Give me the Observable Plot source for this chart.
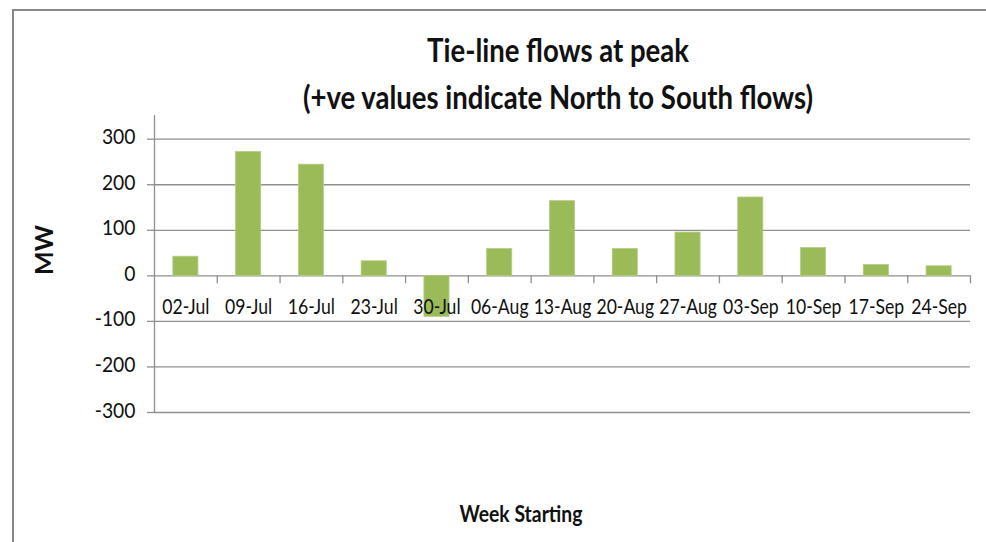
<!DOCTYPE html>
<html>
<head>
<meta charset="utf-8">
<script src="https://cdn.jsdelivr.net/npm/d3@7"></script>
<script src="https://cdn.jsdelivr.net/npm/@observablehq/plot@0.6"></script>
<style>
  html, body { margin: 0; padding: 0; background: #fff; }
  #wrap { position: relative; width: 986px; height: 542px; overflow: hidden; background: #fff;
          font-family: Lato, "Liberation Sans", sans-serif; }
  #frame { position: absolute; left: 12px; top: 9px; width: 1200px; height: 800px;
           border-top: 2px solid #888; border-left: 2px solid #888; }
  #title { position: absolute; left: 0; width: 1116px; top: 26px; text-align: center;
           font-weight: bold; font-size: 32px; line-height: 47px; color: #111;
           transform: scaleX(0.86); transform-origin: 558px 0; }
  #ylab { position: absolute; left: 43px; top: 250px; transform: translate(-50%, -50%) rotate(-90deg);
          font-weight: bold; font-size: 25px; color: #111; }
  #xlab { position: absolute; left: 521px; top: 513px; transform: translate(-50%, -50%) scaleX(0.88);
          font-weight: bold; font-size: 22px; color: #111; white-space: nowrap; }
  #chart { position: absolute; left: 0; top: 100px; }
</style>
</head>
<body>
<div id="wrap">
  <div id="frame"></div>
  <div id="title">Tie-line flows at peak<br>(+ve values indicate North to South flows)</div>
  <div id="ylab">MW</div>
  <div id="xlab">Week Starting</div>
  <div id="chart"></div>
</div>
<script>
const weeks = ["02-Jul","09-Jul","16-Jul","23-Jul","30-Jul","06-Aug","13-Aug","20-Aug","27-Aug","03-Sep","10-Sep","17-Sep","24-Sep"];
const flows = [42, 272, 244, 32, -90, 59, 164, 59, 95, 172, 61, 24, 21];
const yTicks = [-300, -200, -100, 0, 100, 200, 300];

const data = weeks.map((w, i) => ({week: w, mw: flows[i]}));

const W = 986, H = 330, mL = 154, mR = 16, mT = 15, mB = 18;
const step = (W - mL - mR) / weeks.length;
const grey = "#8f8f8f";

const chart = Plot.plot({
  width: W, height: H,
  marginLeft: mL, marginRight: mR, marginTop: mT, marginBottom: mB,
  style: {fontFamily: 'Lato, "Liberation Sans", sans-serif', fontSize: "21px", color: "#111", background: "transparent", overflow: "visible"},
  x: {domain: weeks, paddingInner: 0.6, paddingOuter: 0.3, round: false, axis: null},
  y: {domain: [-300, 352], axis: null},
  marks: [
    Plot.ruleY(yTicks, {stroke: grey, strokeWidth: 1.3}),
    Plot.barY(data, {x: "week", y: "mw", fill: "#9bbb59", stroke: "#b5cc85", strokeWidth: 0.8}),
    Plot.ruleX(weeks, {x: d => d, y1: 0, y2: -17.5, dx: step / 2, stroke: grey, strokeWidth: 1.3}),
    Plot.ruleX([weeks[0]], {x: d => d, y1: -300, y2: 352, dx: -step / 2, stroke: grey, strokeWidth: 1.3}),
    Plot.axisY(yTicks, {tickSize: 7, tickPadding: 12, tickFormat: d => String(d), label: null,
                        stroke: grey, strokeWidth: 1.3, fill: "#111", fontSize: 21, className: "yax"}),
    Plot.text(weeks, {x: d => d, y: () => 0, dy: 38, text: d => d, fontSize: 21, fill: "#111", className: "xlbl"})
  ]
});
// horizontally condense the tick labels (narrow face look of the original)
chart.querySelectorAll("text").forEach(el => {
  const isY = !!el.closest(".yax");
  const sx = isY ? 0.92 : 0.84;
  let tf = el.getAttribute("transform") || "";
  const x = el.getAttribute("x"), y = el.getAttribute("y");
  if (x != null || y != null) {
    tf += ` translate(${+x || 0},${+y || 0})`;
    el.removeAttribute("x"); el.removeAttribute("y");
  }
  if (isY) tf += " translate(0,5)";
  el.setAttribute("transform", (tf + ` scale(${sx},1)`).trim());
});
document.getElementById("chart").appendChild(chart);
</script>
</body>
</html>
